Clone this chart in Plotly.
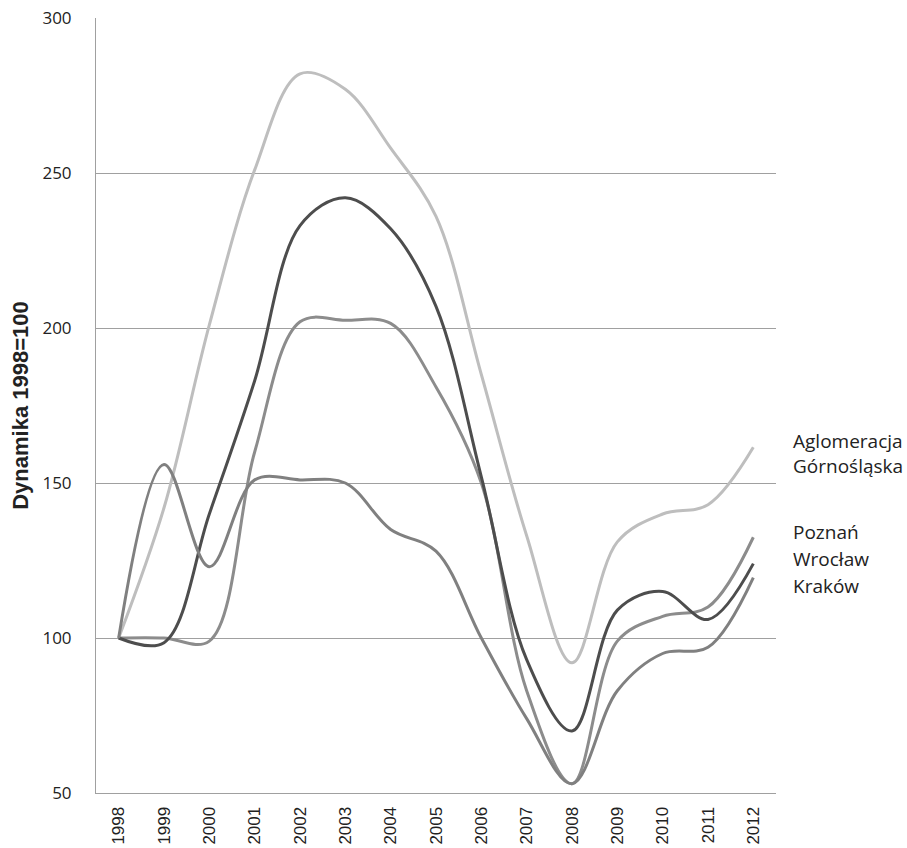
import plotly.graph_objects as go

years = [str(y) for y in range(1998, 2013)]

series_names = ["Aglomeracja Górnośląska", "Poznań", "Wrocław", "Kraków"]
aglomeracja = [100, 142, 201, 251, 282, 277, 258, 236, 185, 133, 92, 131, 140, 143, 161.5]
poznan = [100, 100, 99, 160, 202, 202.5, 201.5, 181, 150, 83, 53, 99, 107, 110, 132.5]
wroclaw = [100, 98.5, 140, 183, 233, 242, 232, 207, 152, 93, 70, 109, 115, 106, 124]
krakow = [100, 156, 123, 151, 151, 150, 135, 128, 100, 74, 53, 83, 95, 97, 119.5]

y_ticks = [50, 100, 150, 200, 250, 300]

values = [aglomeracja, poznan, wroclaw, krakow]
colors = ["#BEBEBE", "#8C8C8C", "#4D4D4D", "#808080"]

fig = go.Figure()
for name, vals, col in zip(series_names, values, colors):
    fig.add_trace(go.Scatter(
        x=years, y=vals, name=name, mode="lines",
        line=dict(color=col, width=3, shape="spline", smoothing=1.0),
        hoverinfo="skip",
    ))

# Plot area geometry in pixels (used to place the series labels at the right)
W, H = 907, 848
L, R, T, B = 96, 131, 18, 55
plot_h = H - T - B
plot_w = W - L - R


def py(ypix):
    return (H - B - ypix) / plot_h


label_x = (791 - L) / plot_w
label_font = dict(family="Open Sans, Noto Sans, sans-serif", size=19, color="#222222")
label_rows = [
    ("Aglomeracja", 441), ("Górnośląska", 466),
    (series_names[1], 532), (series_names[2], 559), (series_names[3], 586),
]
for txt, ypix in label_rows:
    fig.add_annotation(
        xref="paper", yref="paper", x=label_x, y=py(ypix),
        text=txt, showarrow=False, xanchor="left", yanchor="middle",
        font=label_font,
    )

fig.update_layout(
    width=W, height=H,
    margin=dict(l=L, r=R, t=T, b=B, pad=0, autoexpand=False),
    paper_bgcolor="white", plot_bgcolor="white",
    showlegend=False,
    xaxis=dict(
        type="category", range=[-0.5, 14.5], automargin=False,
        showgrid=False, zeroline=False,
        showline=True, linecolor="#A0A0A0", linewidth=1,
        ticks="", tickangle=-90, ticklabelstandoff=6,
        tickfont=dict(family="Liberation Sans, Arial, sans-serif", size=17, color="#222222"),
    ),
    yaxis=dict(
        range=[50, 300], tickvals=y_ticks, automargin=False,
        showgrid=True, gridcolor="#A0A0A0", gridwidth=1,
        zeroline=False,
        showline=True, linecolor="#A0A0A0", linewidth=1,
        ticks="", ticklabelstandoff=20,
        tickfont=dict(family="Open Sans, Noto Sans, sans-serif", size=17, color="#222222"),
        title=dict(
            text="<b>Dynamika 1998=100</b>",
            font=dict(family="Liberation Sans, Arial, sans-serif",
                      size=22, color="#222222"),
            standoff=7,
        ),
    ),
)

fig.write_html("out.html")
